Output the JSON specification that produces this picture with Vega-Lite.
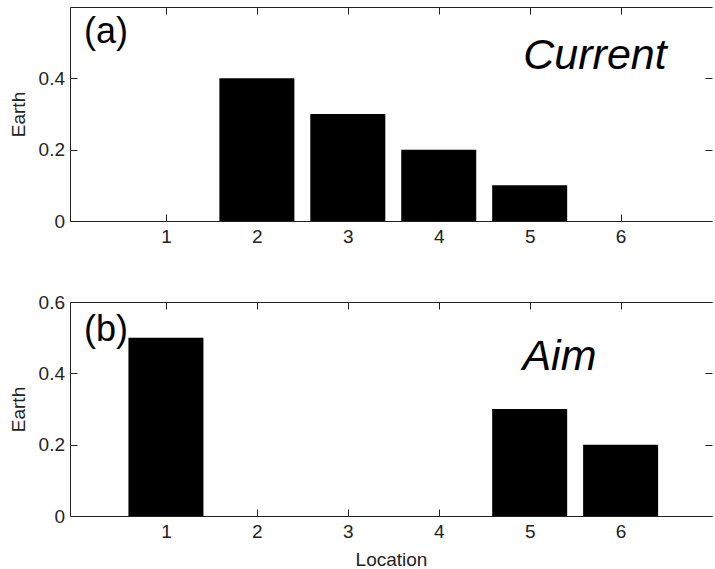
{
  "$schema": "https://vega.github.io/schema/vega-lite/v6.json",
  "padding": {"left": 9, "top": 6, "right": 0, "bottom": 0},
  "spacing": 47,
  "config": {
    "view": {"stroke": null},
    "font": "Liberation Sans",
    "axis": {
      "grid": false,
      "labelFont": "Liberation Sans",
      "labelFontSize": 19,
      "labelColor": "#222",
      "titleFont": "Liberation Sans",
      "titleFontSize": 19,
      "titleFontWeight": "normal",
      "titleColor": "#222",
      "domainColor": "#222",
      "tickColor": "#222",
      "tickSize": -7,
      "domainWidth": 1,
      "tickWidth": 1
    }
  },
  "datasets": {
    "current": [
      {"location": 1, "earth": 0},
      {"location": 2, "earth": 0.4},
      {"location": 3, "earth": 0.3},
      {"location": 4, "earth": 0.2},
      {"location": 5, "earth": 0.1},
      {"location": 6, "earth": 0}
    ],
    "aim": [
      {"location": 1, "earth": 0.5},
      {"location": 2, "earth": 0},
      {"location": 3, "earth": 0},
      {"location": 4, "earth": 0},
      {"location": 5, "earth": 0.3},
      {"location": 6, "earth": 0.2}
    ],
    "labelA": [{"x": 0.1, "y": 0.5, "label": "(a)"}],
    "nameA": [{"x": 4.93, "y": 0.425, "label": "Current"}],
    "labelB": [{"x": 0.1, "y": 0.49, "label": "(b)"}],
    "nameB": [{"x": 4.92, "y": 0.41, "label": "Aim"}]
  },
  "vconcat": [
    {
      "width": 642,
      "height": 214,
      "layer": [
        {
          "data": {"name": "current"},
          "mark": {"type": "bar", "width": 75, "color": "black"},
          "encoding": {
            "x": {"field": "location", "type": "quantitative", "scale": {"domain": [0, 6.95], "nice": false, "zero": false},
                  "axis": {"orient": "bottom", "values": [1, 2, 3, 4, 5, 6], "title": null, "labelPadding": 13}},
            "y": {"field": "earth", "type": "quantitative", "scale": {"domain": [0, 0.6], "nice": false},
                  "axis": {"orient": "left", "values": [0, 0.2, 0.4], "title": "Earth", "labelPadding": 12.5, "titlePadding": 9.5, "format": "~g"}}
          }
        },
        {
          "data": {"name": "current"},
          "mark": {"type": "bar", "width": 75, "opacity": 0},
          "encoding": {
            "x": {"field": "location", "type": "quantitative", "axis": {"orient": "top", "values": [1, 2, 3, 4, 5, 6], "labels": false, "title": null}},
            "y": {"field": "earth", "type": "quantitative", "axis": {"orient": "right", "values": [0, 0.2, 0.4], "labels": false, "title": null, "domain": false}}
          }
        },
        {
          "data": {"name": "labelA"},
          "mark": {"type": "text", "align": "left", "baseline": "alphabetic", "fontSize": 36, "font": "Liberation Sans", "color": "black"},
          "encoding": {
            "x": {"field": "x", "type": "quantitative", "axis": null},
            "y": {"field": "y", "type": "quantitative", "axis": null},
            "text": {"field": "label"}
          }
        },
        {
          "data": {"name": "nameA"},
          "mark": {"type": "text", "align": "left", "baseline": "alphabetic", "fontSize": 43, "fontStyle": "italic", "font": "Liberation Sans", "color": "black"},
          "encoding": {
            "x": {"field": "x", "type": "quantitative", "axis": null},
            "y": {"field": "y", "type": "quantitative", "axis": null},
            "text": {"field": "label"}
          }
        }
      ],
      "resolve": {"axis": {"x": "independent", "y": "independent"}}
    },
    {
      "width": 642,
      "height": 214,
      "layer": [
        {
          "data": {"name": "aim"},
          "mark": {"type": "bar", "width": 75, "color": "black"},
          "encoding": {
            "x": {"field": "location", "type": "quantitative", "scale": {"domain": [0, 6.95], "nice": false, "zero": false},
                  "axis": {"orient": "bottom", "values": [1, 2, 3, 4, 5, 6], "title": "Location", "labelPadding": 13, "titlePadding": 9}},
            "y": {"field": "earth", "type": "quantitative", "scale": {"domain": [0, 0.6], "nice": false},
                  "axis": {"orient": "left", "values": [0, 0.2, 0.4, 0.6], "title": "Earth", "labelPadding": 12.5, "titlePadding": 9.5, "format": "~g"}}
          }
        },
        {
          "data": {"name": "aim"},
          "mark": {"type": "bar", "width": 75, "opacity": 0},
          "encoding": {
            "x": {"field": "location", "type": "quantitative", "axis": {"orient": "top", "values": [1, 2, 3, 4, 5, 6], "labels": false, "title": null}},
            "y": {"field": "earth", "type": "quantitative", "axis": {"orient": "right", "values": [0, 0.2, 0.4, 0.6], "labels": false, "title": null, "domain": false}}
          }
        },
        {
          "data": {"name": "labelB"},
          "mark": {"type": "text", "align": "left", "baseline": "alphabetic", "fontSize": 36, "font": "Liberation Sans", "color": "black"},
          "encoding": {
            "x": {"field": "x", "type": "quantitative", "axis": null},
            "y": {"field": "y", "type": "quantitative", "axis": null},
            "text": {"field": "label"}
          }
        },
        {
          "data": {"name": "nameB"},
          "mark": {"type": "text", "align": "left", "baseline": "alphabetic", "fontSize": 43, "fontStyle": "italic", "font": "Liberation Sans", "color": "black"},
          "encoding": {
            "x": {"field": "x", "type": "quantitative", "axis": null},
            "y": {"field": "y", "type": "quantitative", "axis": null},
            "text": {"field": "label"}
          }
        }
      ],
      "resolve": {"axis": {"x": "independent", "y": "independent"}}
    }
  ]
}
